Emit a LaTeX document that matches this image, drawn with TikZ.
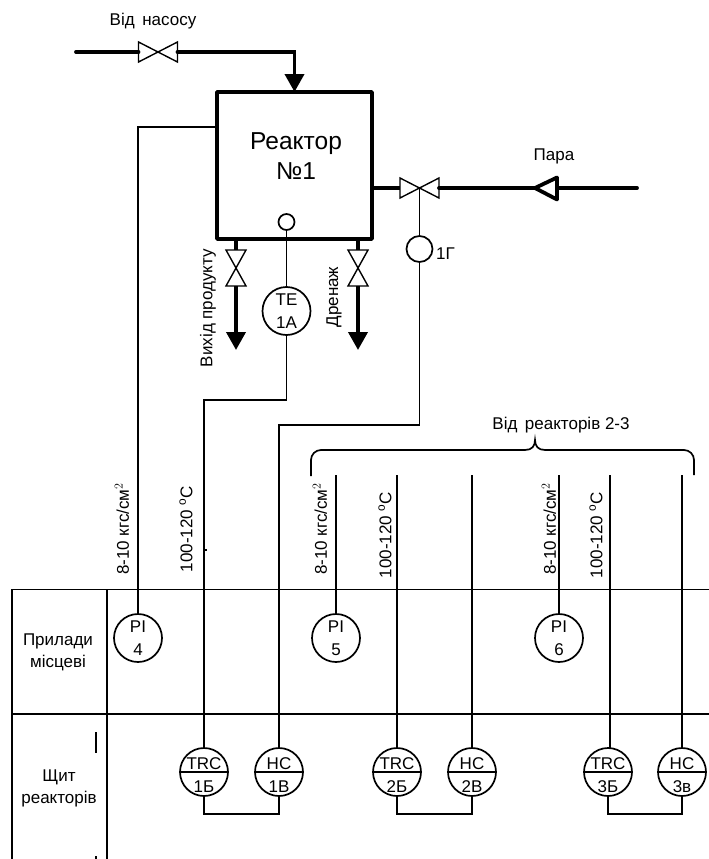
\documentclass[tikz,border=0pt]{standalone}
\usepackage{fontspec}
\setmainfont{Liberation Sans}
\usetikzlibrary{arrows.meta}

\begin{document}
\begin{tikzpicture}[x=1pt,y=-1pt,
    pipe/.style={line width=3.8pt,line cap=round},
    drop/.style={pipe,line cap=butt,-{Triangle[length=18pt,width=19pt]}},
    signal/.style={line width=1.7pt},
    grid/.style={line width=1.7pt},
    instr/.style={circle,draw,line width=1.7pt,minimum size=48pt,inner sep=0pt,outer sep=0pt,align=center,
        font=\fontsize{17}{23}\selectfont},
    small/.style={circle,draw,line width=1.7pt,inner sep=0pt,outer sep=0pt},
    txt/.style={font=\fontsize{17}{22}\selectfont,inner sep=0pt,align=center},
    up/.style={txt,rotate=90},
    pics/valveh/.style={code={
        \draw[line width=1.4pt] (-19.5,-10) -- (19.5,10) -- (19.5,-10) -- (-19.5,10) -- cycle;
        \coordinate (-w) at (-19.5,0);
        \coordinate (-e) at (19.5,0);
        \coordinate (-c) at (0,0);}},
    pics/valvev/.style={code={
        \draw[line width=1.4pt] (-10,-18) -- (10,18) -- (-10,18) -- (10,-18) -- cycle;
        \coordinate (-n) at (0,-18);
        \coordinate (-s) at (0,18);}}]
    \useasboundingbox (0,0) rectangle (709,859);

    \node[draw,line width=3.5pt,line join=round,minimum width=155pt,minimum height=147pt,outer sep=0pt] (reactor) at (294.5,165.5) {};
    \node[txt,font=\fontsize{24.5}{30}\selectfont] (reactorname) at (296,156) {Реактор\\№1};

    \pic (vin) at (158,52) {valveh};
    \pic (vsteam) at (419.5,188) {valveh};
    \pic (vprod) at (236,268) {valvev};
    \pic (vdrain) at (358,268) {valvev};

    \coordinate (instart) at (76,52);
    \coordinate (steamstart) at (637,188);
    \coordinate (prodend) at (236,350);
    \coordinate (drainend) at (358,350);
    \draw[pipe] (instart) -- (vin-w);
    \draw[drop,line cap=round] (vin-e) -| (reactor.north);
    \draw[pipe,line cap=butt] (reactor.east |- vsteam-w) -- (vsteam-w);
    \draw[pipe] (steamstart) -- (vsteam-e);
    \draw[line width=3.8pt,line join=round,fill=white] (535,188) -- (557,177.5) -- (557,199.5) -- cycle;
    \draw[pipe,line cap=butt] (reactor.south -| vprod-n) -- (vprod-n);
    \draw[pipe,line cap=butt] (reactor.south -| vdrain-n) -- (vdrain-n);
    \draw[drop] (vprod-s) -- (prodend);
    \draw[drop] (vdrain-s) -- (drainend);

    \node[small,minimum size=16pt] (tsens) at (286.5,222) {};
    \node[instr] (te) at (286.5,311) {TE\\1A};
    \node[small,minimum size=26pt] (pos) at (419.5,249) {};

    \foreach \name/\x/\lab in {pia/138/{PI\\4},pib/336/{PI\\5},pic/559/{PI\\6}}
        \node[instr] (\name) at (\x,638) {\lab};
    \foreach \name/\x/\lab in {trca/204/{TRC\\1Б},hca/279/{HC\\1В},trcb/397/{TRC\\2Б},hcb/472/{HC\\2В},trcc/608/{TRC\\3Б},hcc/682/{HC\\3в}}{
        \node[instr] (\name) at (\x,772) {};
        \node[txt,font=\fontsize{17}{23}\selectfont] (\name-tag) at (\x,775.5) {\lab};
        \draw[signal] (\name.west) -- (\name.east);
    }

    \draw[signal] (reactor.west |- 0,127) -| (pia.north);
    \draw[signal] (tsens) -- (te);
    \draw[signal] (te.south) |- (204,400) -- (trca.north);
    \draw[signal] (vsteam-c) -- (pos);
    \draw[signal] (pos.south) |- (279,425) -- (hca.north);
    \foreach \name in {pib,trcb,hcb,pic,hcc}
        \draw[signal] (\name.north) -- (\name |- 0,475);
    \coordinate (trcctop) at (610,475);
    \draw[signal] (trcctop) -- (trcc.north -| trcctop);
    \foreach \a/\b in {trca/hca,trcb/hcb,trcc/hcc}
        \draw[signal] (\a.south) |- (\b.south |- 0,814) -- (\b.south);

    \coordinate (braceleft) at (311,476);
    \coordinate (braceright) at (694,475);
    \draw[signal,rounded corners=10pt] (braceleft) |- (525,450);
    \draw[signal,rounded corners=10pt] (braceright) |- (545,450);
    \draw[signal] (525,450)
        .. controls (532,450) and (535,446) .. (535,440)
        .. controls (535,446) and (538,450) .. (545,450);

    \draw[grid] (12,859) |- (709,589.5);
    \draw[grid] (12,714) -- (709,714);
    \draw[grid] (107,589.5) -- (107,859);
    \draw[grid] (96,732) -- (96,753);
    \draw[grid] (96,856) -- (96,859);
    \draw[signal] (204,550) -- (207,550);

    \node[txt] (frompump) at (153,21) {Від\, насосу};
    \node[txt] (steam) at (554,156) {Пара};
    \node[txt] (fromreactors) at (561,425) {Від\, реакторів 2-3};
    \node[txt,anchor=west] (poslab) at (436,254) {1Г};
    \node[up] (prodlab) at (208,308) {Вихід продукту};
    \node[up] (drainlab) at (334,297) {Дренаж};
    \node[txt] (rowa) at (58,652) {Прилади\\місцеві};
    \node[txt] (rowb) at (59,788) {Щит\\реакторів};
    \foreach \name/\x in {pa/122,pb/320,pc/549}
        \node[up] (\name) at (\x,529) {8-10 кгс/см$^2$};
    \node[up] (ta) at (186,529) {100-120 $^{\mathrm{o}}$C};
    \node[up] (tb) at (385,535) {100-120 $^{\mathrm{o}}$C};
    \node[up] (tc) at (596,535) {100-120 $^{\mathrm{o}}$C};
\end{tikzpicture}
\end{document}
